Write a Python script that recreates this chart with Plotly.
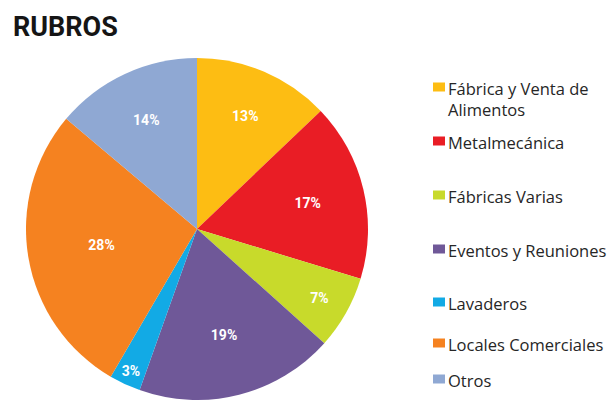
import plotly.graph_objects as go

# Sector breakdown (percent of total)
categories = [
    "Fábrica y Venta de<br>Alimentos",
    "Metalmecánica",
    "Fábricas Varias",
    "Eventos y Reuniones",
    "Lavaderos",
    "Locales Comerciales",
    "Otros",
]
shares = [13, 17, 7, 19, 3, 28, 14]
colors = ["#FDBD13", "#E91D25", "#C8DA2B", "#6F5898", "#12AAE5", "#F58220", "#8FA8D3"]

W, H = 615, 400

fig = go.Figure(
    go.Pie(
        labels=[c.replace("<br>", " ") for c in categories],
        values=shares,
        sort=False,
        direction="clockwise",
        rotation=0,
        marker=dict(colors=colors, line=dict(width=0)),
        texttemplate="%{value}%",
        textposition="inside",
        insidetextorientation="horizontal",
        textfont=dict(family="Roboto", size=14, color="white", weight="bold"),
        hoverinfo="label+value",
        showlegend=False,
        domain=dict(x=[25 / W, 369 / W], y=[0, 342 / H]),
    )
)

# Legend drawn as colored squares plus labels
legend_y = [87, 141, 195, 249, 302, 343, 379]  # pixel centers of the first text line
x_sq0, x_sq1 = 433, 445
x_text = 446

shapes = []
annotations = []
for cat, col, yc in zip(categories, colors, legend_y):
    shapes.append(dict(
        type="rect", xref="paper", yref="paper",
        x0=x_sq0 / W, x1=x_sq1 / W,
        y0=1 - (yc + 4.5) / H, y1=1 - (yc - 4.5) / H,
        fillcolor=col, line=dict(width=0),
    ))
    annotations.append(dict(
        text=cat, xref="paper", yref="paper",
        x=x_text / W, y=1 - (yc - 12.5) / H,
        xanchor="left", yanchor="top", align="left",
        showarrow=False,
        font=dict(family="Open Sans", size=16.5, color="#262626"),
    ))

annotations.append(dict(
    text="<b>RUBROS</b>", xref="paper", yref="paper",
    x=11 / W, y=1 - 27 / H, xanchor="left", yanchor="middle",
    showarrow=False,
    font=dict(family="Roboto", size=27, color="#151515"),
))

fig.update_layout(
    width=W, height=H,
    margin=dict(l=0, r=0, t=0, b=0),
    paper_bgcolor="white",
    plot_bgcolor="white",
    shapes=shapes,
    annotations=annotations,
)

fig.write_html("out.html")
